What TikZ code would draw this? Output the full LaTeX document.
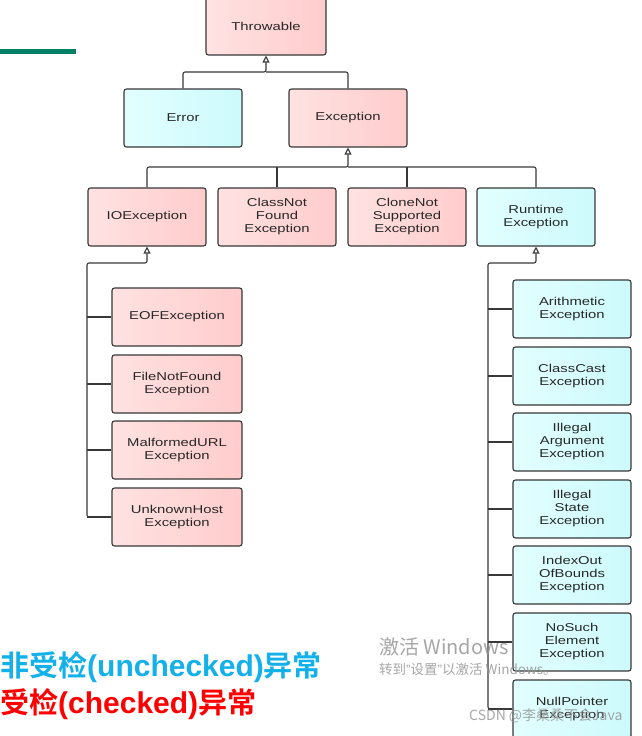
\documentclass[tikz,border=0pt]{standalone}
\usepackage{xcolor}
\usepackage{fontspec}
\setmainfont{Liberation Sans}
\newfontfamily\boxfont[FakeStretch=1.3]{Liberation Sans}
\newfontfamily\cjkb{Noto Sans CJK SC Bold}
\newfontfamily\cjk{Noto Sans CJK SC}
\newfontfamily\latb{Liberation Sans Bold}
\newfontfamily\lat{Liberation Sans}
\usepackage{tikz}
\usetikzlibrary{positioning}
\usetikzlibrary{arrows.meta}

\definecolor{boxline}{RGB}{55,55,55}
\definecolor{boxtext}{RGB}{40,40,40}
\definecolor{chkL}{RGB}{255,226,226}
\definecolor{chkR}{RGB}{255,204,204}
\definecolor{unL}{RGB}{226,255,255}
\definecolor{unR}{RGB}{205,250,252}
\definecolor{greenbar}{RGB}{0,128,100}
\definecolor{legblue}{RGB}{20,176,234}
\definecolor{legred}{RGB}{255,0,0}
\definecolor{wmgrey}{RGB}{150,150,150}

\begin{document}
\begin{tikzpicture}
    [%%%%%%%%%%%%%%%%%%%%%%%%%%%%%%
        x=1pt,y=-1pt,
        box/.style={rectangle,draw=boxline,line width=1.1pt,rounded corners=2.5pt,
            minimum width=118pt,minimum height=58pt,inner sep=0pt,align=center,
            text=boxtext,font=\boxfont\fontsize{11.4}{13}\selectfont},
        checked/.style={box,left color=chkL,right color=chkR},
        unchecked/.style={box,left color=unL,right color=unR},
        link/.style={draw=boxline,line width=1.1pt,rounded corners=2pt},
        inherit/.style={link,-{Triangle[open,width=7pt,length=7pt]}},
        legend/.style={anchor=west,inner sep=0pt,font=\cjkb\fontsize{29}{32}\selectfont},
        mark text/.style={anchor=west,inner sep=0pt,text=wmgrey,opacity=0.85}
    ]%%%%%%%%%%%%%%%%%%%%%%%%%%%%%%

\useasboundingbox (0,0) rectangle (641,736);

\draw[line width=5pt,greenbar] (0,51) -- (76,51);

% top levels
\node[checked,minimum width=120pt] (thr) at (266,26) {Throwable};
\node[unchecked] (err) at (183,118) {Error};
\node[checked] (exc) at (348,118) {Exception};

\node[checked] (io) at (147,217) {IOException};
\node[checked] (cnf) at (277,217) {ClassNot\\Found\\Exception};
\node[checked] (cns) at (407,217) {CloneNot\\Supported\\Exception};
\node[unchecked] (rt) at (536,217) {Runtime\\Exception};

\coordinate (topj) at (266,72);
\draw[inherit] (err.north) |- (topj) -- (thr.south);
\draw[link] (exc.north) |- (topj);

\coordinate (excj) at (348,167);
\draw[inherit] (io.north) |- (excj) -- (exc.south);
\draw[link] (rt.north) |- (excj);
\draw[link] (cnf.north) -- (cnf.north |- excj);
\draw[link] (cns.north) -- (cns.north |- excj);

% IOException branch
\coordinate (ioj) at (147,263);
\coordinate (iobus) at (87,263);
\foreach \nm/\yy/\txt in {eof/317/EOFException, fnf/384/{FileNotFound\\Exception},
    mal/450/{MalformedURL\\Exception}, uh/517/{UnknownHost\\Exception}}{
    \node[checked,minimum width=130pt] (\nm) at (177,\yy) {\txt};
    \draw[link] (\nm.west) -- (\nm.west -| iobus);
}
\draw[inherit] (uh.west) -| (iobus) -- (ioj) -- (io.south);

% RuntimeException branch
\coordinate (rtj) at (536,263);
\coordinate (rtbus) at (488,263);
\foreach \nm/\yy/\txt in {ari/309/{Arithmetic\\Exception}, cc/376/{ClassCast\\Exception},
    ia/442/{Illegal\\Argument\\Exception}, is/509/{Illegal\\State\\Exception},
    ioob/575/{IndexOut\\OfBounds\\Exception}, nse/642/{NoSuch\\Element\\Exception},
    np/709/{NullPointer\\Exception}}{
    \node[unchecked] (\nm) at (572,\yy) {\txt};
    \draw[link] (\nm.west) -- (\nm.west -| rtbus);
}
\draw[inherit] (np.west) -| (rtbus) -- (rtj) -- (rt.south);

% legend
\node[legend,text=legblue] (uncheckedlbl) at (0,667)
    {非受检{\latb\fontsize{30}{32}\selectfont(unchecked)}异常};
\node[legend,text=legred] (checkedlbl) at (0,704)
    {受检{\latb\fontsize{30}{32}\selectfont(checked)}异常};

% overlays
\node[mark text,font=\cjk\fontsize{20}{24}\selectfont] (winmark) at (379,647) {激活 Windows};
\node[mark text,font=\cjk\fontsize{13.5}{16}\selectfont] (winhint) at (379,669)
    {转到{\lat ”}设置{\lat ”}以激活 Windows。};
\node[mark text,font=\cjk\fontsize{14}{16}\selectfont] (csdnmark) at (469,716) {CSDN @李桑桑不会Java};

\end{tikzpicture}
\end{document}
